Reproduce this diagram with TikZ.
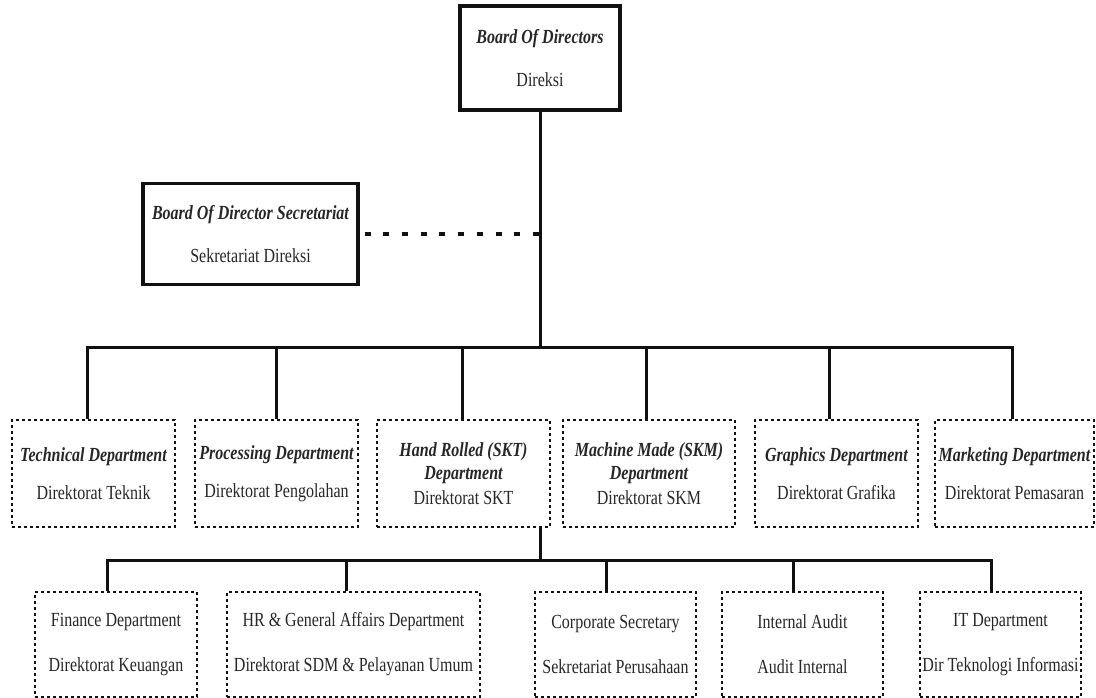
\documentclass[tikz,border=0pt]{standalone}
\usepackage{fontspec}
\setmainfont[FakeStretch=0.8]{Liberation Serif}
\usetikzlibrary{positioning}
\definecolor{linecolor}{HTML}{111111}
\definecolor{textcolor}{HTML}{262626}
\tikzset{
  headbox/.style={
    draw=linecolor,
    line width=3.2pt,
    align=center,
    text=textcolor,
    font=\fontsize{20}{23}\selectfont,
    inner sep=2pt
  },
  deptbox/.style={
    draw=linecolor,
    line width=2.8pt,
    dash pattern=on 2.8pt off 3.2pt,
    align=center,
    text=textcolor,
    font=\fontsize{20}{23}\selectfont,
    inner sep=1pt
  },
  link/.style={
    draw=linecolor,
    line width=3pt
  },
  staffline/.style={
    draw=linecolor,
    line width=4pt,
    dash pattern=on 6pt off 12.7pt,
    shorten <=5pt
  }
}
\newcommand{\hd}[1]{{\bfseries\itshape #1}}

\begin{document}
\begin{tikzpicture}[x=1pt, y=-1pt]

  \useasboundingbox (0,0) rectangle (1096,698);

  % ==================== BOARD ====================
  \node (bod) [headbox, minimum width=160pt, minimum height=104pt] at (540,58) {\hd{Board Of Directors}\\[20pt]Direksi};

  \node (sec) [headbox, minimum width=215pt, minimum height=101pt] at (250.5,234) {\hd{Board Of Director Secretariat}\\[20pt]Sekretariat Direksi};

  % ==================== DIRECTORATES ====================
  \node (d1) [deptbox, minimum width=163pt, minimum height=107pt] at (93.5,473.5) {\hd{Technical Department}\\[15pt]Direktorat Teknik};

  \node (d2) [deptbox, minimum width=163pt, minimum height=107pt] at (276.5,473.5) {\hd{Processing Department}\\[15pt]Direktorat Pengolahan};

  \node (d3) [deptbox, minimum width=173pt, minimum height=107pt] at (463.5,473.5) {\hd{Hand Rolled (SKT)}\\\hd{Department}\\[2pt]Direktorat SKT};

  \node (d4) [deptbox, minimum width=172pt, minimum height=107pt] at (649,473.5) {\hd{Machine Made (SKM)}\\\hd{Department}\\[2pt]Direktorat SKM};

  \node (d5) [deptbox, minimum width=163pt, minimum height=107pt] at (836.5,473.5) {\hd{Graphics Department}\\[15pt]Direktorat Grafika};

  \node (d6) [deptbox, minimum width=159pt, minimum height=107pt] at (1014.5,473.5) {\hd{Marketing Department}\\[15pt]Direktorat Pemasaran};

  % ==================== SUPPORT UNITS ====================
  \node (f1) [deptbox, minimum width=162pt, minimum height=105pt] at (116,644.5) {Finance Department\\[22pt]Direktorat Keuangan};

  \node (f2) [deptbox, minimum width=253pt, minimum height=105pt] at (353.5,644.5) {HR \& General Affairs Department\\[22pt]Direktorat SDM \& Pelayanan Umum};

  \node (f3) [deptbox, minimum width=161pt, minimum height=105pt] at (615.5,644.5) {Corporate Secretary\\[22pt]Sekretariat Perusahaan};

  \node (f4) [deptbox, minimum width=161pt, minimum height=105pt] at (802.5,644.5) {Internal Audit\\[22pt]Audit Internal};

  \node (f5) [deptbox, minimum width=161pt, minimum height=105pt] at (1000.5,644.5) {IT Department\\[22pt]Dir Teknologi Informasi};

  % Bus points
  \coordinate (topbus) at (540,347);
  \coordinate (lowbus) at (540,560);

  % Connectors Board
  \draw [link] (bod) -- (topbus);
  \draw [staffline] (sec.east) -- (sec.east -| bod.south);

  % Connectors Directorates
  \draw [link] ([xshift=-6pt]d1.north) |- (topbus) -| ([xshift=-2pt]d6.north);
  \foreach \n/\s in {d2/0, d3/-1, d4/-3, d5/-7}
    \draw [link] ([xshift=\s pt]\n.north) -- ([xshift=\s pt]\n.north |- topbus);

  % Connectors Support Units
  \draw [link] (d3.south -| bod.south) -- (lowbus);
  \draw [link] ([xshift=-9pt]f1.north) |- (lowbus) -| ([xshift=-9.5pt]f5.north);
  \foreach \n/\s in {f2/-7.5, f3/-9.5, f4/-9.5}
    \draw [link] ([xshift=\s pt]\n.north) -- ([xshift=\s pt]\n.north |- lowbus);

\end{tikzpicture}
\end{document}
